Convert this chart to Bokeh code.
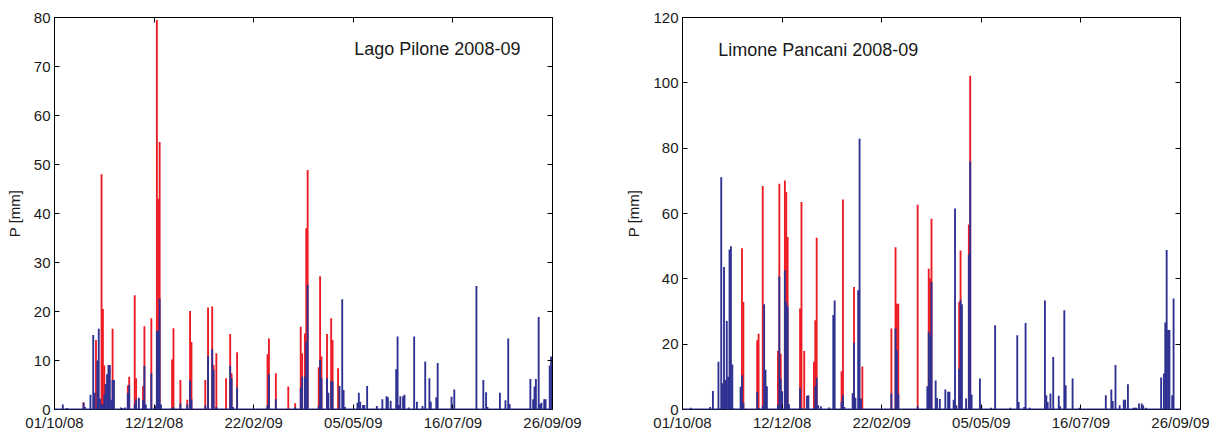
from bokeh.plotting import figure
from bokeh.layouts import row
from bokeh.models import Range1d, FixedTicker, LinearAxis, Label, Span
from bokeh.embed import file_html
from bokeh.resources import INLINE

# ---------------- data (day index from 01/10/2008, daily precipitation mm) ----
tick_days = [0, 72, 144, 216, 288, 360]
tick_labels = ["01/10/08", "12/12/08", "22/02/09", "05/05/09", "16/07/09", "26/09/09"]

pil_red_day = [21, 30, 34, 35, 36, 42, 53, 54, 58, 59, 64, 65, 70, 74, 75, 76, 85, 86, 91, 96,
               98, 99, 109, 111, 114, 115, 117, 124, 127, 128, 132, 154, 155, 160, 169, 174,
               178, 179, 181, 182, 183, 191, 192, 193, 197, 200, 201, 205]
pil_red_mm = [1.5, 14.2, 48.0, 20.5, 9.0, 16.5, 4.9, 6.7, 23.3, 6.4, 4.8, 17.0, 18.6, 79.5, 43.0,
              54.6, 10.2, 16.6, 6.0, 2.0, 20.1, 13.8, 6.0, 20.8, 21.0, 9.1, 11.5, 6.4, 15.4, 7.4,
              11.7, 11.3, 14.5, 7.4, 4.7, 1.3, 16.9, 11.5, 15.5, 37.0, 48.9, 8.6, 27.2, 10.8,
              15.4, 18.6, 14.2, 8.4]

pil_blue_day = [6, 9, 21, 22, 26, 28, 29, 31, 32, 33, 34, 35, 36, 37, 38, 39, 40, 41, 42, 43,
                48, 49, 51, 53, 54, 58, 59, 61, 64, 65, 66, 70, 73, 74, 75, 76, 77, 85, 86, 91,
                96, 98, 99, 109, 111, 114, 115, 117, 127, 128, 129, 132, 154, 155, 160, 174,
                178, 179, 181, 182, 183, 191, 192, 193, 197, 198, 200, 201, 206, 208, 209, 210,
                219, 220, 221, 223, 224, 226, 233, 237, 240, 241, 243, 247, 248, 249, 250, 252,
                253, 256, 260, 262, 266, 268, 271, 272, 276, 277, 287, 289, 305, 310, 312, 313,
                322, 326, 328, 329, 344, 346, 347, 348, 350, 351, 352, 354, 355, 358, 359]
pil_blue_mm = [1.0, 0.3, 1.4, 0.5, 3.0, 15.2, 3.4, 10.0, 16.5, 2.2, 1.0, 1.0, 3.0, 5.2, 7.2, 9.1,
               9.1, 2.0, 6.0, 6.0, 0.4, 0.3, 0.4, 3.4, 5.0, 1.2, 2.1, 2.4, 1.9, 8.9, 1.0, 7.4,
               0.8, 16.0, 16.0, 22.6, 1.0, 0.3, 0.5, 1.2, 1.0, 5.9, 2.1, 0.8, 10.9, 12.3, 8.1,
               0.5, 8.9, 6.4, 0.5, 4.5, 0.9, 7.2, 2.1, 0.4, 4.5, 6.7, 6.7, 13.8, 25.4, 0.7,
               10.1, 6.4, 6.4, 3.4, 5.8, 5.7, 4.8, 22.5, 4.0, 0.5, 1.4, 3.4, 1.6, 0.9, 0.9, 4.8,
               0.7, 2.1, 2.7, 2.5, 1.8, 8.2, 14.9, 0.9, 2.7, 2.7, 3.0, 0.4, 14.9, 1.6, 0.7, 9.8,
               6.4, 1.6, 2.5, 9.5, 2.6, 4.1, 25.2, 6.0, 3.5, 0.5, 3.4, 1.9, 14.5, 1.1, 6.2, 2.1,
               4.7, 6.2, 18.9, 1.1, 1.4, 2.1, 2.1, 9.0, 10.8]

lim_red_day = [43, 44, 54, 55, 58, 69, 70, 71, 74, 75, 76, 85, 86, 88, 95, 96, 97, 115, 116,
               124, 130, 151, 154, 155, 156, 170, 178, 179, 180, 200, 201, 207, 208]
lim_red_mm = [49.4, 32.9, 21.2, 23.2, 68.4, 17.9, 69.1, 17.1, 70.1, 66.6, 52.8, 30.9, 63.5,
              17.9, 14.6, 27.3, 52.6, 11.7, 64.3, 37.5, 13.2, 24.8, 49.7, 32.4, 32.4, 62.7,
              43.1, 40.1, 58.4, 32.9, 48.7, 56.6, 102.2]

lim_blue_day = [6, 20, 22, 26, 28, 29, 30, 31, 32, 33, 34, 35, 36, 37, 42, 43, 44, 54, 55, 58,
                59, 60, 61, 69, 70, 71, 72, 74, 75, 76, 77, 85, 86, 90, 91, 95, 96, 97, 98, 100,
                106, 109, 110, 115, 116, 117, 123, 124, 125, 127, 128, 129, 151, 154, 155, 156,
                170, 177, 178, 179, 180, 183, 184, 186, 190, 192, 193, 196, 197, 198, 200, 201,
                202, 205, 207, 208, 209, 215, 216, 223, 226, 237, 242, 243, 247, 248, 251, 262,
                263, 264, 266, 268, 272, 273, 276, 277, 282, 287, 306, 310, 311, 313, 316, 319,
                320, 322, 326, 327, 328, 330, 332, 333, 335, 346, 348, 349, 350, 351, 352, 354,
                355]
lim_blue_mm = [0.5, 0.8, 5.7, 14.6, 71.1, 8.0, 43.6, 9.0, 27.1, 10.0, 49.0, 50.0, 13.8, 0.3,
               7.0, 10.5, 2.0, 5.4, 0.5, 1.0, 32.2, 12.2, 7.1, 1.3, 40.6, 9.5, 5.6, 42.6, 32.9,
               31.6, 1.6, 6.6, 0.5, 4.2, 4.4, 0.5, 7.1, 9.7, 1.3, 1.0, 0.6, 28.9, 33.4, 2.3,
               4.4, 0.8, 5.0, 20.4, 3.6, 36.5, 82.9, 3.4, 4.9, 24.8, 18.1, 4.7, 1.0, 7.1, 23.7,
               22.7, 39.0, 8.9, 3.5, 3.2, 6.1, 5.4, 5.4, 3.0, 61.5, 1.3, 12.5, 33.6, 32.2, 3.4,
               47.4, 75.9, 4.6, 9.5, 1.3, 0.5, 25.8, 0.5, 22.7, 2.3, 0.8, 26.5, 0.5, 33.4, 4.4,
               2.3, 4.9, 16.1, 4.2, 1.0, 30.4, 7.4, 9.5, 0.5, 4.4, 6.1, 2.6, 13.6, 1.3, 3.0,
               3.0, 7.7, 0.5, 0.5, 0.5, 1.8, 1.8, 1.3, 0.5, 9.8, 11.0, 26.6, 48.8, 24.3, 24.3,
               4.4, 34.0]

RED = "#ED1C24"
BLUE = "#2E3192"
TXT = "#1a1a1a"
FONT = "Liberation Sans"


def make_panel(title, ymax, ystep, red_d, red_v, blue_d, blue_v, left_border, right_border,
               title_x, title_y):
    p = figure(frame_width=498, frame_height=392, output_backend="svg", toolbar_location=None,
               x_range=Range1d(0, 360), y_range=Range1d(0, ymax),
               min_border_left=left_border, min_border_right=right_border,
               min_border_top=17, min_border_bottom=23)
    p.grid.visible = False
    p.outline_line_color = "black"
    p.background_fill_color = "white"
    p.border_fill_color = "white"

    p.vbar(x=red_d, top=red_v, bottom=0, width=1.35, fill_color=RED, line_color=None)
    p.vbar(x=blue_d, top=blue_v, bottom=0, width=1.35, fill_color=BLUE, line_color=None)
    p.add_layout(Span(location=0, dimension="width", line_color=BLUE, line_width=2))

    yt = list(range(0, ymax + 1, ystep))
    xtick = FixedTicker(ticks=tick_days)
    ytick = FixedTicker(ticks=yt)

    xa = p.xaxis[0]
    xa.ticker = xtick
    xa.major_label_overrides = {d: l for d, l in zip(tick_days, tick_labels)}
    ya = p.yaxis[0]
    ya.ticker = ytick
    ya.axis_label = "P [mm]"
    ya.axis_label_text_font_style = "normal"
    ya.axis_label_text_font = FONT
    ya.axis_label_text_font_size = "15px"
    ya.axis_label_text_color = TXT
    ya.axis_label_standoff = 8
    for ax in (xa, ya):
        ax.major_tick_in = 5
        ax.major_tick_out = 0
        ax.minor_tick_line_color = None
        ax.major_label_text_font = FONT
        ax.major_label_text_font_size = "15px"
        ax.major_label_text_color = TXT
        ax.major_label_standoff = 4
        ax.axis_line_color = "black"

    ra = LinearAxis(ticker=FixedTicker(ticks=yt))
    ta = LinearAxis(ticker=FixedTicker(ticks=tick_days))
    for ax in (ra, ta):
        ax.major_tick_in = 5
        ax.major_tick_out = 0
        ax.minor_tick_line_color = None
        ax.major_label_text_font_size = "0px"
        ax.major_label_standoff = 0
        ax.axis_line_color = "black"
    ra.major_label_overrides = {t: "" for t in yt}
    ta.major_label_overrides = {t: "" for t in tick_days}
    p.add_layout(ra, "right")
    p.add_layout(ta, "above")

    p.add_layout(Label(x=title_x, y=title_y, text=title, text_font=FONT,
                       text_font_size="18px", text_color=TXT,
                       text_align="left", text_baseline="alphabetic"))
    return p


p1 = make_panel("Lago Pilone 2008-09", 80, 10, pil_red_day, pil_red_mm, pil_blue_day,
                pil_blue_mm, 54, 68, 216.7, 73.5)
p2 = make_panel("Limone Pancani 2008-09", 120, 20, lim_red_day, lim_red_mm, lim_blue_day,
                lim_blue_mm, 62, 37, 25.8, 110.0)

layout = row(p1, p2, spacing=0)
open("out.html", "w").write(file_html(layout, INLINE))
